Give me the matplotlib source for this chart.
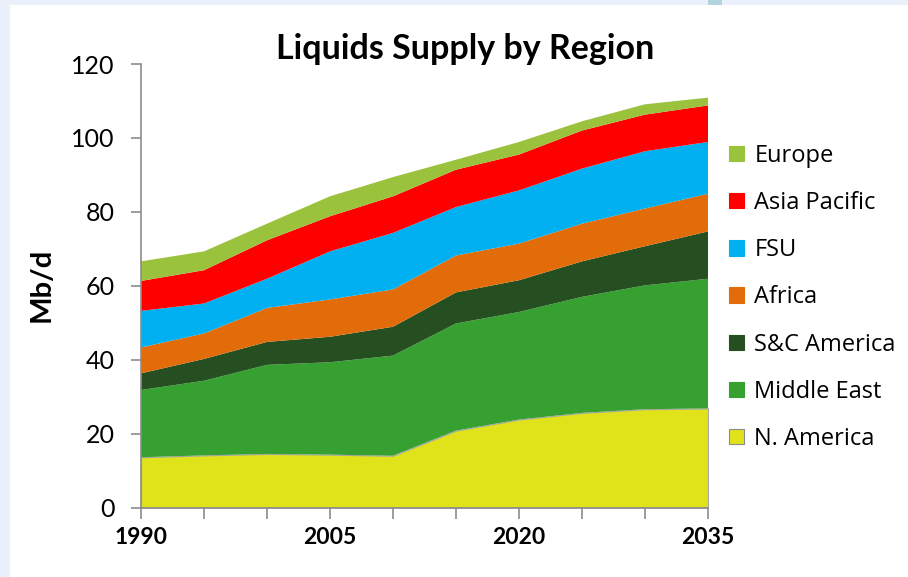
import matplotlib
matplotlib.use("Agg")
import matplotlib.pyplot as plt
from matplotlib.patches import Rectangle, Patch

years = [1990, 1995, 2000, 2005, 2010, 2015, 2020, 2025, 2030, 2035]
n_america = [13.6, 14.1, 14.5, 14.3, 14.0, 20.8, 23.8, 25.6, 26.6, 26.8]
middle_east = [18.2, 20.2, 24.1, 25.0, 27.1, 29.0, 29.1, 31.4, 33.5, 35.1]
sc_america = [4.5, 5.9, 6.2, 6.9, 7.8, 8.4, 8.6, 9.6, 10.6, 12.8]
africa = [7.0, 6.9, 9.2, 10.1, 10.1, 10.0, 9.9, 10.2, 10.2, 10.2]
fsu = [9.9, 8.1, 7.9, 13.0, 15.3, 13.1, 14.4, 14.9, 15.5, 14.0]
asia_pacific = [8.1, 9.0, 10.4, 9.5, 9.9, 10.1, 9.7, 10.3, 9.9, 9.9]
europe = [5.3, 5.1, 4.5, 5.4, 5.2, 2.7, 3.4, 2.5, 2.8, 2.1]

labels = ["N. America", "Middle East", "S&C America", "Africa", "FSU", "Asia Pacific", "Europe"]
colors = ["#E0E31A", "#36A131", "#264F21", "#E36C0A", "#00B0F0", "#FF0000", "#9BC23C"]
series = [n_america, middle_east, sc_america, africa, fsu, asia_pacific, europe]
tick_years = [1990, 2005, 2020, 2035]
y_ticks = [0, 20, 40, 60, 80, 100, 120]

W, H = 908, 577
fig = plt.figure(figsize=(W / 100, H / 100), dpi=100)
fig.patch.set_facecolor("#EAF1FA")
fig.patches.append(Rectangle((10 / W, 0), 1 - 10 / W, 1 - 5 / H, transform=fig.transFigure,
                             facecolor="white", edgecolor="none", zorder=-10))
fig.patches.append(Rectangle((708 / W, 1 - 5 / H), 14 / W, 5 / H, transform=fig.transFigure,
                             facecolor="#B3D3DF", edgecolor="none", zorder=-10))

ax = fig.add_axes([141 / W, (H - 507.5) / H, (708 - 141) / W, (507.5 - 64) / H])
ax.set_facecolor("none")
polys = ax.stackplot(years, *series, colors=colors, labels=labels, linewidth=0)
polys[0].set_edgecolor("#A5A5A5")
polys[0].set_linewidth(0.8)
ax.set_xlim(1990, 2035)
ax.set_ylim(0, 120)
ax.set_xticks(years)
ax.set_xticklabels([str(y) if y in tick_years else "" for y in years],
                   fontfamily="Lato", fontweight="bold", fontsize=16.5)
ax.set_yticks(y_ticks)
ax.set_yticklabels([str(v) for v in y_ticks], fontfamily="Lato", fontsize=18)
for s in ["top", "right"]:
    ax.spines[s].set_visible(False)
for s in ["left", "bottom"]:
    ax.spines[s].set_color("#8C8C8C")
    ax.spines[s].set_linewidth(1.2)
    ax.spines[s].set_zorder(5)
ax.tick_params(axis="both", direction="out", color="#8C8C8C", width=1.2)
ax.tick_params(axis="x", length=8, pad=6)
ax.tick_params(axis="y", length=7, pad=12)

fig.text(465 / W, 1 - 49 / H, "Liquids Supply by Region", ha="center", va="center",
         fontfamily="Lato", fontweight="bold", fontsize=24.5)
fig.text(42 / W, 1 - 285 / H, "Mb/d", ha="center", va="center", rotation=90,
         fontfamily="Lato", fontweight="bold", fontsize=21)

handles = [Patch(facecolor=c, edgecolor=("#8C8C8C" if l == "N. America" else c), linewidth=0.8)
           for c, l in zip(colors, labels)][::-1]
leg = fig.legend(handles, labels[::-1], loc="upper left", bbox_to_anchor=(729 / W, 1 - 144 / H),
                 frameon=False, prop={"family": "Open Sans", "size": 17},
                 handlelength=0.62, handleheight=0.62, handletextpad=0.45, labelspacing=0.98,
                 borderaxespad=0, borderpad=0)

fig.savefig("out.png", dpi=100)
